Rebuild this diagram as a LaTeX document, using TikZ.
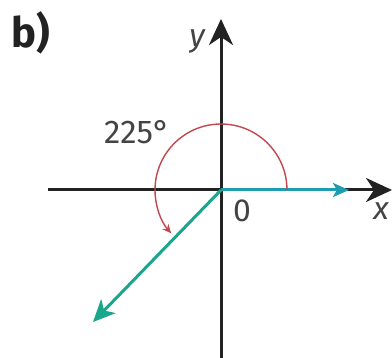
\documentclass[tikz,border=0pt]{standalone}
\usepackage{fontspec}
\setmainfont{Fira Sans}
\usetikzlibrary{arrows.meta}
\definecolor{axisgray}{HTML}{222222}
\definecolor{cyanv}{HTML}{1E9DB0}
\definecolor{greenv}{HTML}{1AA68C}
\definecolor{arcred}{HTML}{C2474F}
\definecolor{textgray}{HTML}{444444}
\tikzset{
  axisline/.style={draw=axisgray, line width=3bp, -{Stealth[length=26bp,width=24bp,inset=8bp]}},
  cyanvec/.style={draw=cyanv, line width=3bp, -{Stealth[length=16bp,width=14bp,inset=4bp]}},
  greenvec/.style={draw=greenv, line width=3bp, -{Stealth[length=22bp,width=20bp,inset=6bp]}},
  anglearc/.style={draw=arcred, line width=1.4bp, -{Stealth[length=9bp,width=8bp]}},
  lbl/.style={text=textgray, inner sep=0pt},
}
\begin{document}
\begin{tikzpicture}[x=1bp,y=1bp]
\useasboundingbox (0,0) rectangle (392,358);
\coordinate (O) at (221,168);
\coordinate (xl) at (48,168);
\coordinate (xr) at (392,168);
\coordinate (yt) at (221,339);
\coordinate (yb) at (221,0);
\coordinate (ct) at (349,168);
\coordinate (gt) at (93,36);
\draw[axisline] (xl) -- (xr);
\draw[axisline] (yb) -- (yt);
\draw[cyanvec] (O) -- (ct);
\draw[greenvec] (O) -- (gt);
\draw[anglearc] ([shift={(0:66)}]O) arc[start angle=0, end angle=221, radius=66];
\node[lbl, text=axisgray, font=\fontsize{42}{42}\selectfont\bfseries] (b) at (31,325) {b)};
\node[lbl, font=\fontsize{32}{32}\selectfont\itshape] (ylab) at (197,317) {y};
\node[lbl, font=\fontsize{33}{33}\selectfont] (ang) at (137,226) {225°};
\node[lbl, font=\fontsize{32}{32}\selectfont] (zero) at (242,147) {0};
\node[lbl, font=\fontsize{32}{32}\selectfont\itshape] (xlab) at (381,147) {x};
\end{tikzpicture}
\end{document}
